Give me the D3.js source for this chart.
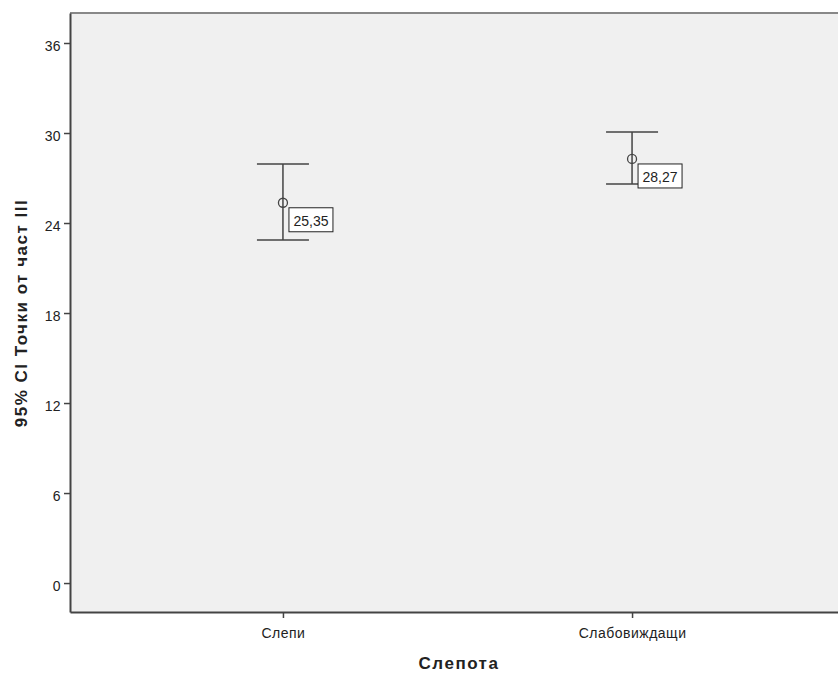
<!DOCTYPE html>
<html><head><meta charset="utf-8">
<script src="https://cdn.jsdelivr.net/npm/d3@7/dist/d3.min.js"></script>
<style>body{margin:0;background:#fff}svg{display:block}</style>
</head><body>
<svg id="c" width="838" height="673"></svg>
<script>
const categories = ["Слепи", "Слабовиждащи"];
const means = [25.35, 28.27];
const lower = [22.87, 26.6];
const upper = [27.93, 30.07];
const meanLabels = ["25,35", "28,27"];
const yTicks = [0, 6, 12, 18, 24, 30, 36];

const svg = d3.select("#c");
const font = "Arial, 'Liberation Sans', sans-serif";
const L = 70, T = 13, B = 612, R = 845;

const x = d3.scalePoint().domain(categories).range([L, R]).padding(0.61);
const y = d3.scaleLinear().domain([-1.93, 38]).range([B, T]);

svg.append("rect").attr("x", L).attr("y", T).attr("width", R - L).attr("height", B - T).attr("fill", "#f0f0f0");
svg.append("line").attr("x1", L).attr("x2", 838).attr("y1", T).attr("y2", T).attr("stroke", "#888").attr("stroke-width", 2);

const ya = svg.append("g").attr("transform", `translate(${L},0)`)
  .call(d3.axisLeft(y).tickValues(yTicks).tickSize(6).tickSizeOuter(0).tickFormat(d3.format("d")));
ya.select(".domain").attr("stroke", "#444").attr("stroke-width", 2);
ya.selectAll(".tick line").attr("stroke", "#444").attr("stroke-width", 1.5);
ya.selectAll(".tick text").attr("font-family", font).attr("font-size", 14).attr("letter-spacing", "0.4px")
  .attr("fill", "#222").attr("x", -9).attr("dy", "0.5em");

const xa = svg.append("g").attr("transform", `translate(0,${B})`)
  .call(d3.axisBottom(x).tickSize(6).tickSizeOuter(0));
xa.select(".domain").attr("stroke", "#444").attr("stroke-width", 2);
xa.selectAll(".tick line").attr("stroke", "#444").attr("stroke-width", 1.5);
xa.selectAll(".tick text").attr("font-family", font).attr("font-size", 14).attr("letter-spacing", "0.5px")
  .attr("fill", "#222").attr("y", 16);

svg.append("text").attr("x", 459).attr("y", 669).attr("text-anchor", "middle")
  .attr("font-family", font).attr("font-size", 17).attr("letter-spacing", "1.5px").attr("font-weight", "bold").attr("fill", "#222").text("Слепота");
svg.append("text").attr("transform", `translate(27,${313}) rotate(-90)`).attr("text-anchor", "middle")
  .attr("font-family", font).attr("font-size", 17).attr("letter-spacing", "1.5px").attr("font-weight", "bold").attr("fill", "#222").text("95% CI Точки от част III");

const g = svg.append("g");
categories.forEach((c, i) => {
  const cx = x(c);
  const s = "#444";
  g.append("line").attr("x1", cx).attr("x2", cx).attr("y1", y(upper[i])).attr("y2", y(lower[i])).attr("stroke", s).attr("stroke-width", 1.5);
  g.append("line").attr("x1", cx - 26).attr("x2", cx + 26).attr("y1", y(upper[i])).attr("y2", y(upper[i])).attr("stroke", s).attr("stroke-width", 1.5);
  g.append("line").attr("x1", cx - 26).attr("x2", cx + 26).attr("y1", y(lower[i])).attr("y2", y(lower[i])).attr("stroke", s).attr("stroke-width", 1.5);
  g.append("circle").attr("cx", cx).attr("cy", y(means[i])).attr("r", 4.5).attr("fill", "none").attr("stroke", s).attr("stroke-width", 1.3);
  const by = y(means[i]) + 5;
  g.append("rect").attr("x", cx + 6).attr("y", by).attr("width", 44).attr("height", 24)
    .attr("fill", "#fff").attr("stroke", "#222").attr("stroke-width", 1);
  g.append("text").attr("x", cx + 28).attr("y", by + 18).attr("text-anchor", "middle")
    .attr("font-family", font).attr("font-size", 14).attr("fill", "#222").text(meanLabels[i]);
});
</script>
</body></html>
